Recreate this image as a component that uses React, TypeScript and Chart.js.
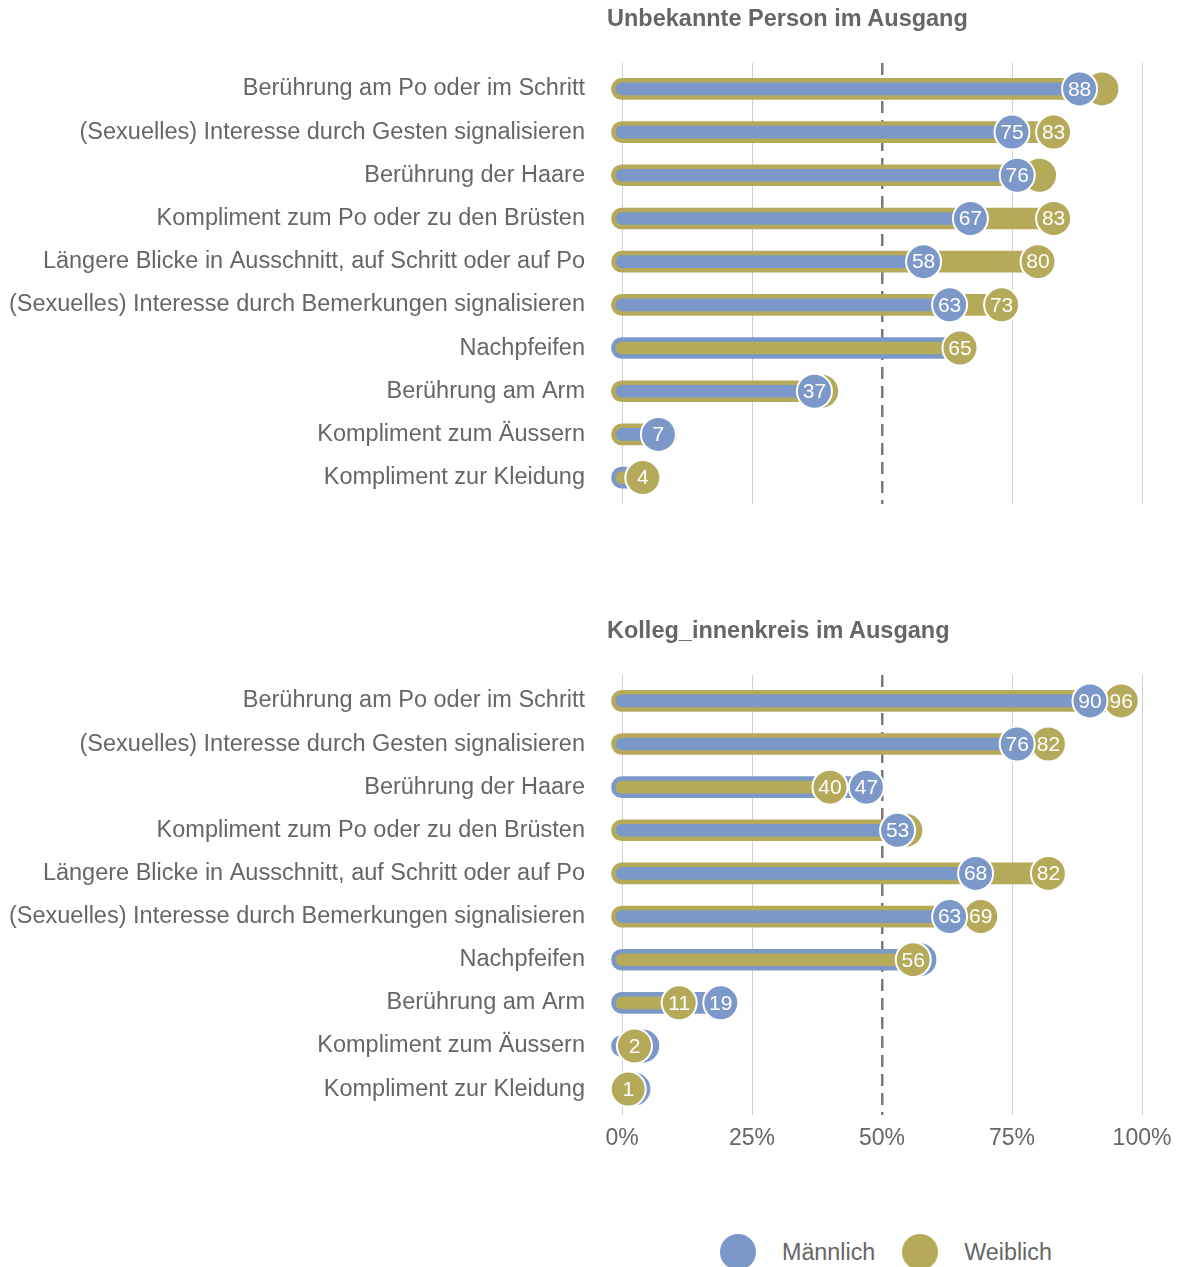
import React, { useEffect, useRef } from 'react';
import { Chart, registerables } from 'chart.js';

Chart.register(...registerables);

const categories = [
  'Berührung am Po oder im Schritt',
  '(Sexuelles) Interesse durch Gesten signalisieren',
  'Berührung der Haare',
  'Kompliment zum Po oder zu den Brüsten',
  'Längere Blicke in Ausschnitt, auf Schritt oder auf Po',
  '(Sexuelles) Interesse durch Bemerkungen signalisieren',
  'Nachpfeifen',
  'Berührung am Arm',
  'Kompliment zum Äussern',
  'Kompliment zur Kleidung',
];
const seriesNames = ['Männlich', 'Weiblich'];
const panelTitles = ['Unbekannte Person im Ausgang', 'Kolleg_innenkreis im Ausgang'];
const unbekannteMaennlich = [88, 75, 76, 67, 58, 63, 65.3, 37, 7, 4.2];
const unbekannteWeiblich = [92.3, 83, 80.3, 83, 80, 73, 65, 38.4, 7.4, 4];
const kollegMaennlich = [90, 76, 47, 53, 68, 63, 57.3, 19, 4, 2.3];
const kollegWeiblich = [96, 82, 40, 54.6, 82, 69, 56, 11, 2.4, 1.2];
const xTicks = [0, 25, 50, 75, 100];

const BLUE = '#7B98C8';
const GOLD = '#B4AA5A';
const TEXT = '#666666';
const FONT = '"Liberation Sans", Arial, Helvetica, sans-serif';

const valueLabels = {
  id: 'valueLabels',
  afterDatasetDraw(chart: any, args: any) {
    const ds = chart.data.datasets[args.index] as any;
    if (!ds.labelTexts) return;
    const ctx = chart.ctx;
    ctx.save();
    ctx.font = `21px ${FONT}`;
    ctx.fillStyle = '#ffffff';
    ctx.textAlign = 'center';
    ctx.textBaseline = 'middle';
    args.meta.data.forEach((el: any, i: number) => {
      const t = ds.labelTexts[i];
      if (t) ctx.fillText(t, el.x, el.y + 1);
    });
    ctx.restore();
  },
};

function buildDatasets(male: number[], female: number[]) {
  const backVals: number[] = [];
  const frontVals: number[] = [];
  const backCol: string[] = [];
  const frontCol: string[] = [];
  const backLbl: string[] = [];
  const frontLbl: string[] = [];
  male.forEach((mv, i) => {
    const fv = female[i];
    const maleBack = mv > fv;
    const bv = maleBack ? mv : fv;
    const fr = maleBack ? fv : mv;
    backVals.push(bv);
    frontVals.push(fr);
    backCol.push(maleBack ? BLUE : GOLD);
    frontCol.push(maleBack ? GOLD : BLUE);
    backLbl.push(bv - fr >= 5 ? String(Math.round(bv)) : '');
    frontLbl.push(String(Math.round(fr)));
  });
  const pts = (vals: number[]) => vals.map((v, i) => ({ x: v, y: i }));
  return [
    {
      type: 'bar', data: pts(backVals), backgroundColor: backCol, barThickness: 21, maxBarThickness: 21,
      base: -2.02, borderRadius: 10.5, borderSkipped: false, borderWidth: 0, grouped: false, order: 4, clip: false,
      indexAxis: 'y',
    },
    {
      type: 'scatter', data: pts(backVals), pointRadius: 17.5, pointHoverRadius: 17.5, pointBackgroundColor: backCol,
      pointBorderColor: '#ffffff', pointBorderWidth: 2, order: 3, clip: false, labelTexts: backLbl, indexAxis: 'x',
    },
    {
      type: 'bar', data: pts(frontVals), backgroundColor: frontCol, barThickness: 12, maxBarThickness: 12,
      base: -1.15, borderRadius: 6, borderSkipped: false, borderWidth: 0, grouped: false, order: 2, clip: false,
      indexAxis: 'y',
    },
    {
      type: 'scatter', data: pts(frontVals), pointRadius: 17.5, pointHoverRadius: 17.5, pointBackgroundColor: frontCol,
      pointBorderColor: '#ffffff', pointBorderWidth: 2, order: 1, clip: false, labelTexts: frontLbl, indexAxis: 'x',
    },
  ];
}

function makeOptions(showTicks: boolean) {
  const isMid = (c: any) => c.tick && c.tick.value === 50;
  return {
    responsive: false,
    animation: false,
    events: [],
    indexAxis: 'y',
    layout: { padding: { top: 55, right: 31, bottom: 0, left: 0 } },
    plugins: { legend: { display: false }, tooltip: { enabled: false }, title: { display: false } },
    scales: {
      x: {
        type: 'linear', min: 0, max: 100, position: 'bottom', offset: false,
        afterBuildTicks: (s: any) => { s.ticks = xTicks.map((v) => ({ value: v })); },
        afterFit: (s: any) => {
          s.height = showTicks ? 45 : 0;
          s.paddingRight = 0; s.paddingLeft = 0; s.paddingTop = 0; s.paddingBottom = 0;
        },
        grid: {
          color: (c: any) => (isMid(c) ? '#7a7a7a' : '#d0d0d0'),
          lineWidth: (c: any) => (isMid(c) ? 2.5 : 1),
          drawTicks: true,
          tickLength: 10,
          tickColor: 'rgba(0,0,0,0)',
          offset: false,
        },
        border: { display: false, dash: (c: any) => (isMid(c) ? [12, 7] : []) },
        ticks: {
          display: showTicks, padding: 0, color: TEXT, font: { family: FONT, size: 23 },
          callback: (v: any) => `${v}%`, maxRotation: 0, autoSkip: false,
        },
      },
      y: {
        type: 'linear', min: -0.6, max: 9.6, reverse: true, offset: false,
        afterBuildTicks: (s: any) => { s.ticks = categories.map((_, i) => ({ value: i })); },
        afterFit: (s: any) => {
          s.width = 614;
          s.paddingTop = 0; s.paddingBottom = 0; s.paddingLeft = 0; s.paddingRight = 0;
        },
        grid: { display: false, drawTicks: false, offset: false },
        border: { display: false },
        ticks: {
          padding: 37, color: TEXT, font: { family: FONT, size: 23.5 },
          callback: (v: any) => categories[v] ?? '', autoSkip: false,
        },
      },
    },
  };
}

function Panel({ male, female, showTicks, height }: { male: number[]; female: number[]; showTicks: boolean; height: number }) {
  const ref = useRef<HTMLCanvasElement | null>(null);
  useEffect(() => {
    if (!ref.current) return;
    const chart = new Chart(ref.current, {
      type: 'bar',
      data: { datasets: buildDatasets(male, female) as any },
      options: makeOptions(showTicks) as any,
      plugins: [valueLabels as any],
    });
    return () => chart.destroy();
  }, [male, female, showTicks]);
  return <canvas ref={ref} width={1165} height={height} style={{ display: 'block' }} />;
}

const titleStyle: React.CSSProperties = {
  position: 'absolute', left: 599, fontFamily: FONT, fontWeight: 'bold', fontSize: 23.5,
  lineHeight: '23px', color: TEXT, whiteSpace: 'nowrap',
};

const dot = (color: string): React.CSSProperties => ({
  display: 'inline-block', width: 36, height: 36, borderRadius: '50%', background: color,
});

export default function App() {
  return (
    <div style={{ position: 'relative', width: 1165, height: 1259, fontFamily: FONT }}>
      <style>{'html,body{overflow:hidden}'}</style>
      <div style={{ position: 'absolute', left: 0, top: 0 }}>
        <Panel male={unbekannteMaennlich} female={unbekannteWeiblich} showTicks={false} height={515} />
      </div>
      <div style={{ ...titleStyle, top: -1 }}>{panelTitles[0]}</div>
      <div style={{ position: 'absolute', left: 0, top: 612 }}>
        <Panel male={kollegMaennlich} female={kollegWeiblich} showTicks={true} height={540} />
      </div>
      <div style={{ ...titleStyle, top: 611 }}>{panelTitles[1]}</div>
      <div
        style={{
          position: 'absolute', left: 712, top: 1226, display: 'flex', alignItems: 'center', height: 36,
          color: TEXT, fontSize: 23.3, whiteSpace: 'nowrap',
        }}
      >
        <span style={dot(BLUE)} />
        <span style={{ marginLeft: 26 }}>{seriesNames[0]}</span>
        <span style={{ ...dot(GOLD), marginLeft: 27 }} />
        <span style={{ marginLeft: 26 }}>{seriesNames[1]}</span>
      </div>
    </div>
  );
}
